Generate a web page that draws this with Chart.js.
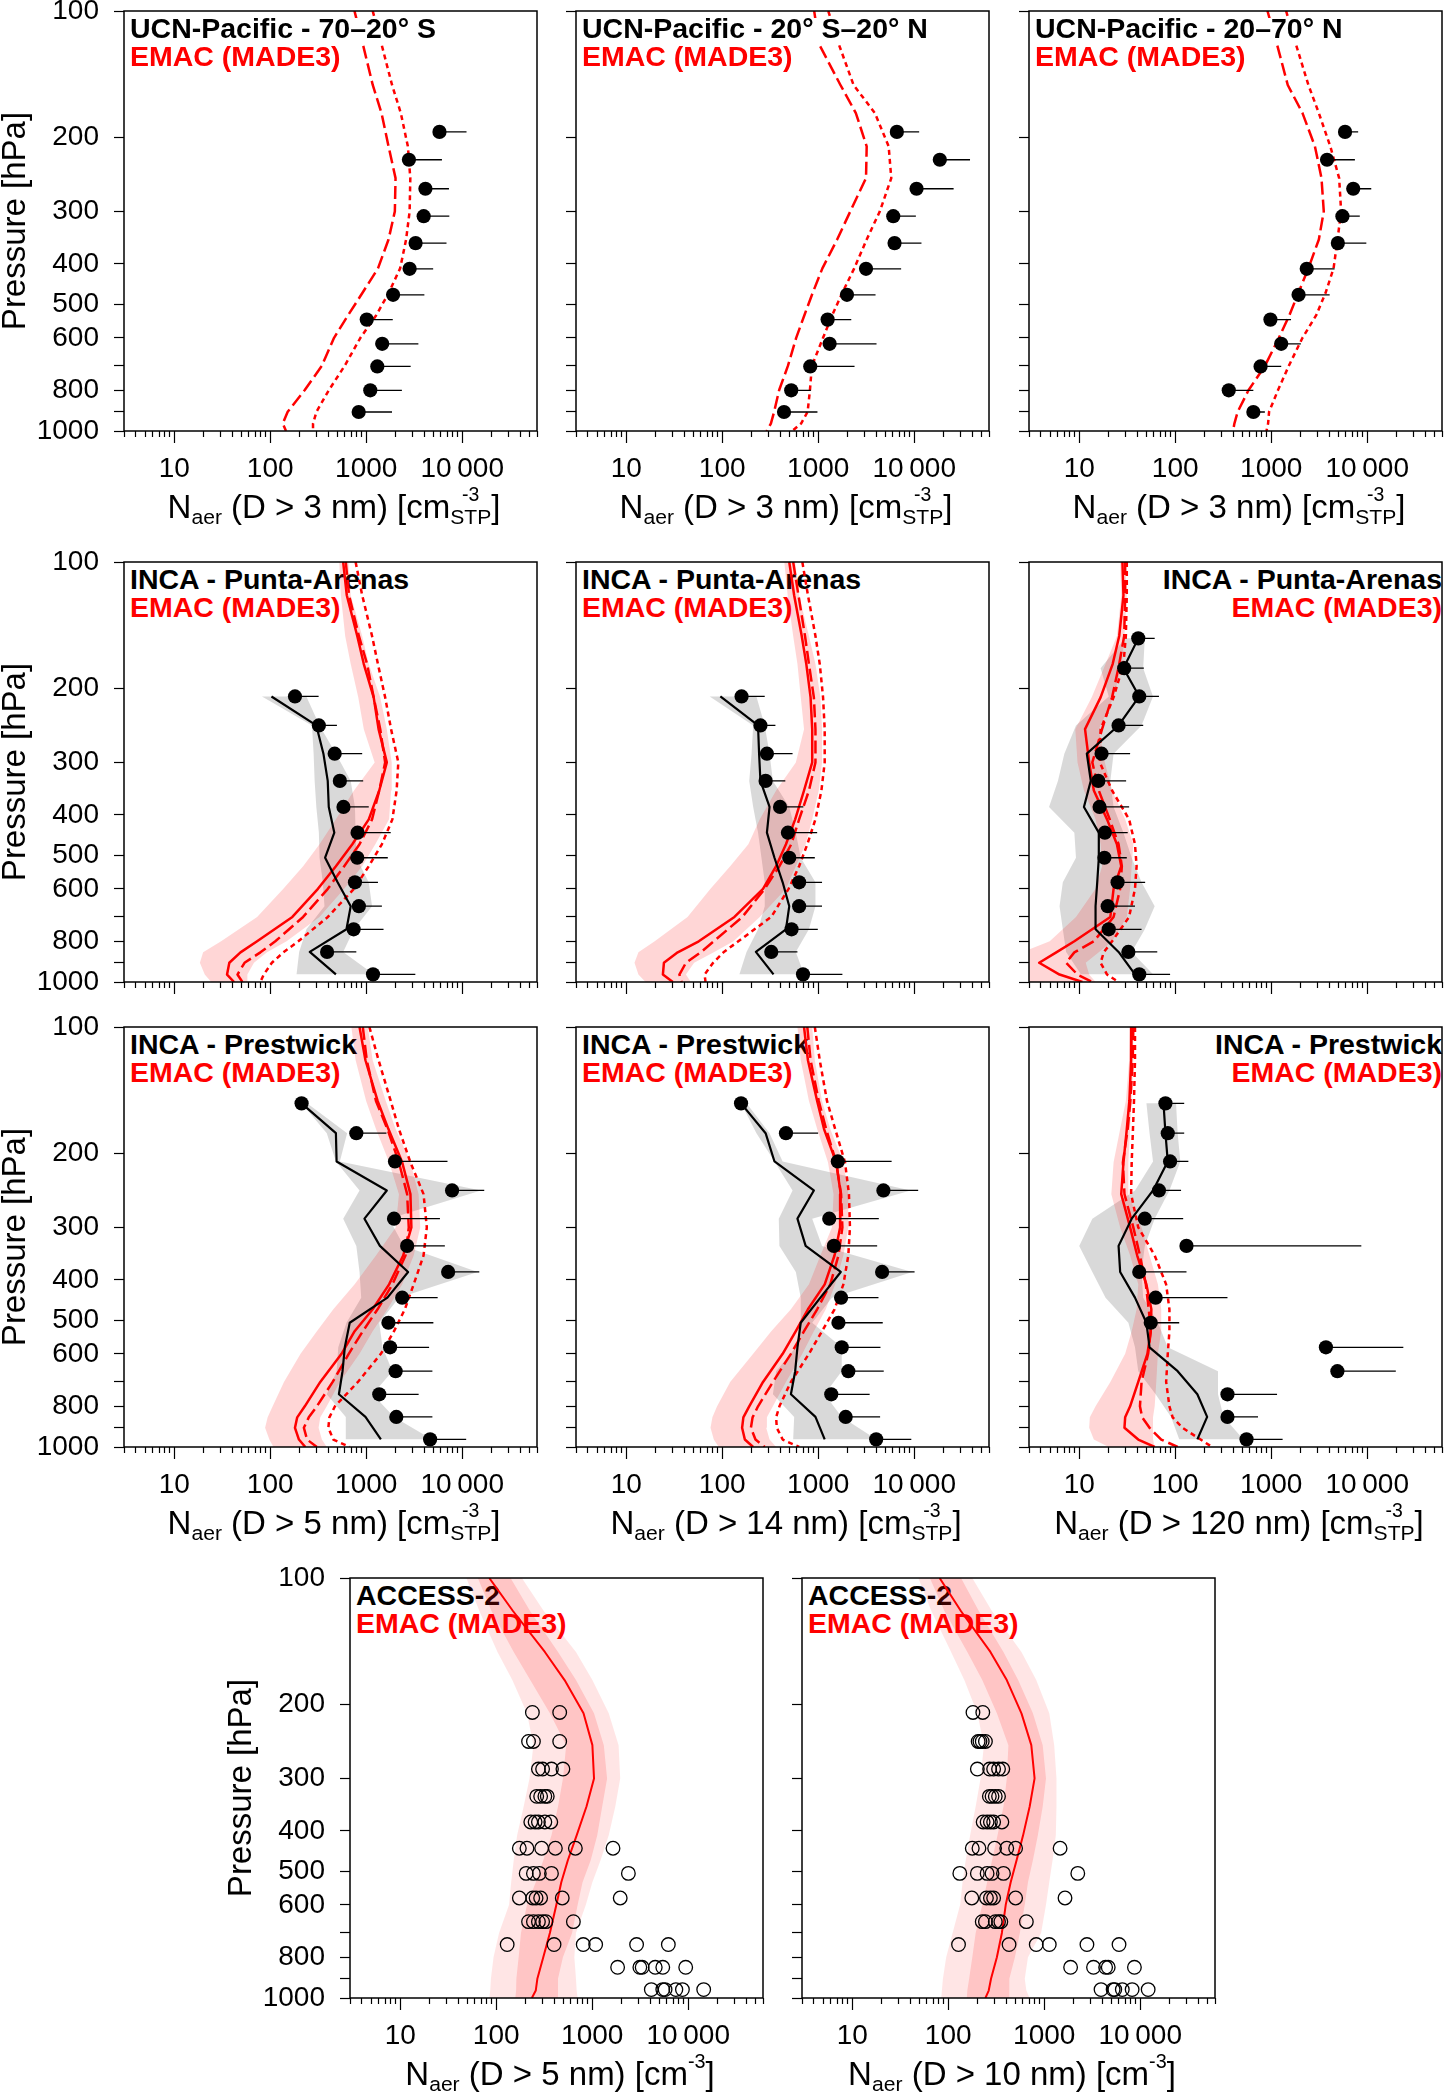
<!DOCTYPE html>
<html><head><meta charset="utf-8">
<script src="https://cdn.jsdelivr.net/npm/chart.js@4.4.1/dist/chart.umd.min.js"></script>
<style>
html,body{margin:0;padding:0;background:#fff;overflow:hidden;width:1450px;height:2093px;}
#root{position:relative;width:1450px;height:2093px;overflow:hidden;}
canvas{position:absolute;z-index:2;}
.ttl{position:absolute;font-family:'Liberation Sans',Arial,Helvetica,sans-serif;font-weight:bold;font-size:28.5px;line-height:28.5px;white-space:nowrap;z-index:1;}
.ttl.front{z-index:3;}
.ttl.front span{background:linear-gradient(to bottom, rgba(255,255,255,0) 0px, rgba(255,255,255,0) 6px, #fff 6px, #fff 100%);}
.ttl .b{color:#000;} .ttl .r{color:#f00;}
.xt{position:absolute;width:640px;text-align:center;font-family:'Liberation Sans',Arial,Helvetica,sans-serif;font-size:33px;line-height:33px;white-space:nowrap;z-index:3;color:#000;}
.sb{font-size:0.64em;position:relative;top:0.3em;}
.sp{font-size:0.6em;position:relative;top:-0.85em;}
.st{position:relative;display:inline-block;font-size:0.64em;}
.st .dn{position:relative;top:0.3em;}
.st .up{position:absolute;left:0;right:0;text-align:center;top:-9px;font-size:0.92em;line-height:1;}
</style></head>
<body><div id="root"></div>
<script>
// ---------------- axes ----------------
const X_TICKS = [3,4,5,6,7,8,9,10,20,30,40,50,60,70,80,90,100,200,300,400,500,600,700,800,900,
  1000,2000,3000,4000,5000,6000,7000,8000,9000,10000,20000,30000,40000,50000,60000];
const X_LABELS = {10:'10',100:'100',1000:'1000',10000:'10\u2009000'};
const Y_TICKS = [100,200,300,400,500,600,700,800,900,1000];
const Y_LABELS = {100:'100',200:'200',300:'300',400:'400',500:'500',600:'600',800:'800',1000:'1000'};

// ---------------- pressure levels [hPa] ----------------
const P_MOD_A = [100,120,150,175,210,250,300,350,410,470,530,600,700,800,900,960,1000];
const P_MOD_B = [100,120,150,175,210,250,300,350,410,470,530,600,700,800,850,900,960,1000];
const P_UCN  = [194,226,265,308,357,411,474,543,620,702,800,901];
const P_INCA = [152,179,209,245,286,332,383,441,506,579,660,749,848,959];
const P_ACC  = [209,245,285,331,381,440,505,578,658,746,845,955];

// ---------------- UCN-Pacific 70-20 S ----------------
const ucnS_obs   = [5788,2782,4131,3963,3265,2829,1903,1012,1466,1303,1101,834];
const ucnS_obsHi = [11070,6140,7265,7330,6850,4975,4030,1888,3490,2900,2350,1856];
const ucnS_dash  = [754,922,1168,1442,1706,2018,1985,1706,1325,907,647,462,344,228,152,135,146];
const ucnS_dot   = [1168,1442,1856,2291,2711,2876,2829,2600,2253,1706,1270,869,595,407,303,279,279];
// ---------------- UCN-Pacific 20 S - 20 N ----------------
const ucnEq_obs   = [6585,18450,10560,6040,6232,3144,1991,1252,1313,825,523,440];
const ucnEq_obsHi = [11240,38060,25680,10390,11880,7295,3950,2207,4044,2387,838,981];
const ucnEq_dash  = [907,1021,1702,2463,3194,3144,2156,1573,1104,872,717,589,483,391,347,321,290];
const ucnEq_dot   = [1272,1637,2331,3888,5410,5760,4375,3194,2368,1771,1398,1122,858,819,775,662,535];
// ---------------- UCN-Pacific 20-70 N ----------------
const ucnN_obs   = [5868,3811,7140,5510,4937,2342,1925,980,1270,774,361,651];
const ucnN_obsHi = [8035,7430,11000,8356,9775,4565,4058,1607,2033,1270,651,858];
const ucnN_dash  = [913,1147,1485,2115,2850,3335,3523,3131,2435,1910,1545,1202,858,579,447,413,400];
const ucnN_dot   = [1428,1807,2435,3131,4121,5094,5340,4898,4457,3664,2941,2115,1521,1174,949,927,892];

// ---------------- INCA Punta-Arenas D>5 nm ----------------
const pa5_obs   = [null,null,181,321,469,531,579,812,806,763,838,739,391,1176];
const pa5_obsHi = [null,null,319,495,907,929,1062,1798,1676,1324,1455,1513,788,3244];
const pa5_med   = [null,null,103,302,358,397,407,465,373,503,689,622,258,483];
const pa5_lo    = [null,null,82,272,283,290,302,321,326,353,367,238,200,188];
const pa5_up    = [null,null,238,326,483,689,763,775,788,1062,1149,745,575,1195];
const pa5_mod   = [575,627,806,943,1195,1344,1637,1366,1062,716,483,314,170,73,49,37.5,35.5,42];
const pa5_modLo = [523,544,603,689,825,943,1223,745,483,326,220,137,73,30.8,20,18.5,20.8,24.3];
const pa5_modHi = [652,689,907,1062,1398,1637,1841,1813,1729,1243,907,589,326,148,92.6,67.7,57.8,57.8];
const pa5_dash  = [612,662,838,1021,1195,1398,1573,1366,1149,851,589,398,220,113,79,54,45.6,51.3];
const pa5_dot   = [775,907,1149,1323,1573,1813,2156,2072,1871,1454,1062,745,398,196,137,104,85.6,79];
// ---------------- INCA Punta-Arenas D>14 nm ----------------
const pa14_obs   = [null,null,159,250,292,283,400,483,499,632,632,527,324,694];
const pa14_obsHi = [null,null,277,358,540,454,700,974,921,1095,1095,989,607,1784];
const pa14_med   = [null,null,95.6,236,242,250,311,292,350,426,499,461,224,342];
const pa14_lo    = [null,null,74,210,202,191,210,236,256,277,277,236,179,151];
const pa14_up    = [null,null,227,277,311,337,499,584,657,935,935,800,584,711];
const pa14_mod   = [499,561,673,751,832,865,865,711,575,461,364,266,134,57,34.4,24.7,24.1,30.6];
const pa14_modLo = [443,480,548,607,657,711,584,364,246,187,121,75.5,43.5,19.8,13.4,12.2,13.4,15.9];
const pa14_modHi = [575,632,800,935,1053,1095,1095,1013,865,739,584,461,246,131,81.7,51,41.9,47.1];
const pa14_dash  = [548,622,728,800,900,935,935,800,632,523,394,277,162,81.7,59.6,41.9,35.8,37.8];
const pa14_dot   = [683,781,935,1037,1122,1167,1167,1079,935,769,632,491,324,147,103,80.4,65.5,67];
// ---------------- INCA Punta-Arenas D>120 nm ----------------
const pa120_obs   = [41.2,29.4,42.2,25.7,17.1,15.8,16.3,18.5,18.3,25.1,19.8,20.3,32.5,42.2];
const pa120_obsHi = [61.1,47.1,67.7,46.4,33.9,30.8,33.1,32,31.3,48.6,38.1,44.6,65,88.4];
const pa120_med   = [41.2,28.9,42.2,25.7,12,13.2,11.2,16,16,15.4,14.8,14.8,25.7,38.1];
const pa120_lo    = [30.1,16.7,20.3,9.25,7.0,6.0,4.85,8.9,9.25,6.75,6.24,6.75,7.3,10.4];
const pa120_up    = [48.2,46.4,58.7,44.6,22.8,21.1,22.8,28.9,35.2,44.6,61.1,48.2,35.2,58.7];
const pa120_mod   = [28.2,28.9,26.1,22.3,16.7,11.5,12.7,14.2,19.5,24.7,27.4,22.8,21.1,8.9,5.77,3.83,6.24,10.8];
const pa120_modLo = [26.7,27.4,24.7,18.8,13.5,9.1,9.6,11.2,14.8,16.7,17.3,14.8,9.25,4.93,2.5,2.5,2.5,2.5];
const pa120_modHi = [30.1,31.3,29.6,27.8,22.8,16,18.5,22,30.1,36.6,35.2,33.9,31.3,22,16,11.7,12.7,14.8];
const pa120_dash  = [30.1,30.1,29.4,26.1,22,17.3,13.7,16,20.8,25.7,27.8,26.7,22.8,14.2,8.9,7.3,9.6,13.7];
const pa120_dot   = [31.3,31.3,30.6,28.9,22.8,16.7,16.4,22,33.1,38.1,39.6,38.1,33.1,22,18,16.7,19.5,25.7];

// ---------------- INCA Prestwick D>5 nm ----------------
const pw5_obs   = [212,788,1992,7830,1946,2666,7124,2368,1702,1771,2023,1366,2056,4624];
const pw5_obsHi = [212,1623,7015,16930,5852,6585,15040,5541,5000,4513,4884,3511,4884,10980];
const pw5_med   = [212,483,491,1637,958,1387,2729,1662,673,598,566,519,981,1420];
const pw5_lo    = [212,388,483,851,575,788,851,886,622,511,491,388,612,612];
const pw5_up    = [242,632,531,15650,1729,2463,14460,2189,1366,1477,1871,1167,1946,4808];
const pw5_mod   = [851,981,1313,1702,2368,2884,2951,2424,1729,1167,757,553,332,229,191,181,199,232];
const pw5_modLo = [700,775,997,1262,1729,2189,2023,1262,757,454,306,207,139,106,94,88.4,97.9,108];
const pw5_modHi = [1037,1167,1598,2023,2884,3511,3651,3119,2368,1662,1167,851,531,388,332,319,345,388];
const pw5_dash  = [921,1013,1262,1662,2189,2666,2772,2562,1871,1313,921,657,447,306,252,224,242,306];
const pw5_dot   = [1078,1344,1798,2189,2884,3950,4272,3950,3119,2523,1946,1420,819,472,413,403,454,673];
// ---------------- INCA Prestwick D>14 nm ----------------
const pw14_obs   = [157,461,1598,4770,1302,1454,4624,1729,1623,1756,2056,1366,1930,4012];
const pw14_obsHi = [157,997,5807,10980,4272,4107,10070,4238,4694,4445,4808,3428,4407,9311];
const pw14_med   = [157,283,350,900,607,739,1716,1053,657,607,575,519,935,1167];
const pw14_lo    = [157,227,350,540,388,394,584,657,657,584,364,337,561,548];
const pw14_up    = [179,311,426,9163,865,1095,9530,1387,865,1756,1756,1167,1756,4012];
const pw14_mod   = [711,781,974,1149,1537,1716,1689,1477,1167,781,584,426,266,191,166,161,172,210];
const pw14_modLo = [607,657,800,974,1262,1443,1387,1053,800,519,324,210,121,88.4,79,75.5,81.7,91.9];
const pw14_modHi = [865,921,1095,1334,1827,2056,2056,1827,1501,1198,900,683,461,337,292,287,311,364];
const pw14_dash  = [769,832,1013,1208,1537,1729,1784,1623,1334,974,711,519,337,236,207,199,222,277];
const pw14_dot   = [921,1037,1233,1501,1900,2088,2138,2056,1827,1477,1095,800,519,394,364,370,426,632];
// ---------------- INCA Prestwick D>120 nm ----------------
const pw120_obs   = [79.1,83.6,88.4,67.7,48.2,131,42.2,62.5,55.6,3709,4884,350,350,553];
const pw120_obsHi = [124,124,137,115,121,8670,131,350,110,23740,19820,1149,728,1313];
const pw120_med   = [75.5,79.1,83.6,58.7,35.2,25.7,26.7,38.1,50.1,54,106,170,215,170];
const pw120_lo    = [50.1,54,58.7,38.1,13.7,10,13.7,18.8,32.5,38.1,41.2,62.5,90.5,110];
const pw120_up    = [102,106,113,87,61.1,48.2,44.6,46.4,66,83.6,279,279,319,511];
const pw120_mod   = [35.2,34.7,33.3,31.3,28.9,27.4,33.9,40.2,50.1,56.4,55.6,51.3,41.2,33.9,30.1,29.6,41.2,61.1];
const pw120_modLo = [33.9,33.1,30.6,26.7,22.8,21.6,26.7,33.9,41.2,39.6,35.2,30.1,21.1,14.8,12.9,12.7,14.2,20.3];
const pw120_modHi = [36.6,36.6,35.2,33.9,32.5,32.5,44.6,54,66,71.5,71.5,66,63.5,61.1,58.7,58.7,58.7,61.1];
const pw120_dash  = [36.6,36.1,34.1,32,28.5,29.6,36.6,42.9,49.4,53,55.6,52.2,44.6,42.9,45.3,54,71.5,106];
const pw120_dot   = [38.1,38.1,37.2,36.3,35.2,34.7,41.2,61.1,80.4,87,87,83.6,80.4,87,94,119,184,242];

// ---------------- ACCESS-2 D>5 nm ----------------
const acc5_obs = [
  [238,458],[217,244,458],[275,304,376,495],[264,290,321,340],[229,254,275,321,370],
  [174,209,297,413,667,1645],[205,244,281,376,2378],[174,240,260,290,487,1955],
  [217,244,275,304,329,636],[130,400,805,1085,2895,6199],[1837,3131,3308,4529,5425,9400],
  [4121,5425,5733,7427,8690,14470]];
const acc5_mod   = [84.6,150,321,515,811,1003,1043,871,688,557,476,423,362,309,268,258,235];
const acc5_outLo = [48.8,66.9,103,147,209,244,222,193,165,152,143,136,107,93.7,88,86.6,84.6];
const acc5_inLo  = [64.3,89.4,152,226,362,535,495,440,376,309,258,209,181,171,162,161,158];
const acc5_inHi  = [141,226,440,677,1043,1320,1428,1270,1128,964,793,705,617,495,440,440,440];
const acc5_outHi = [185,314,677,1003,1485,1881,1955,1738,1485,1221,1003,858,677,651,677,688,705];
// ---------------- ACCESS-2 D>10 nm ----------------
const acc10_obs = [
  [181,229],[205,214,226,244],[201,270,297,334,370],[268,286,309,334],[231,254,275,297,362],
  [178,209,304,407,503,1462],[132,201,254,286,376,2234],[176,250,275,297,503,1645],
  [226,244,309,334,353,651],[128,430,825,1128,2783,6007],[1881,3257,4355,4637,8690],
  [3902,5215,5425,6497,8226,12080]];
const acc10_mod   = [81.3,136,275,407,579,733,793,705,602,515,447,397,362,321,279,264,244];
const acc10_outLo = [48.8,66.9,107,147,201,235,217,193,169,152,141,133,111,95.2,88,85.9,84.6];
const acc10_inLo  = [64.3,91.5,158,226,321,423,407,376,326,286,254,226,193,178,165,158,156];
const acc10_inHi  = [136,209,376,535,762,964,1043,964,858,762,677,627,557,495,433,433,433];
const acc10_outHi = [178,286,579,825,1128,1270,1341,1341,1320,1221,1128,1043,927,677,627,651,705];

// ---------------- helpers ----------------
const FONT = "'Liberation Sans', Arial, Helvetica, sans-serif";
const AXW = 124, PW = 420, PH = 420, PAD_T = 34, XAH = 62, PAD_R = 2;
const root = document.getElementById('root');

function profile(xs, ps){ const o=[]; xs.forEach((v,i)=>{ if(v!=null) o.push({x:v,y:ps[i]}); }); return o; }
function band(lo, hi, ps){
  const o=[];
  for(let i=0;i<ps.length;i++) if(lo[i]!=null) o.push({x:lo[i],y:ps[i]});
  for(let i=ps.length-1;i>=0;i--) if(hi[i]!=null) o.push({x:hi[i],y:ps[i]});
  return o;
}
function bars(xs, his, ps){
  const o=[];
  xs.forEach((v,i)=>{ if(v!=null){ o.push({x:v,y:ps[i]},{x:his[i],y:ps[i]},{x:null,y:null}); } });
  return o;
}
function rows(list, ps){ const o=[]; list.forEach((r,i)=>r.forEach(v=>o.push({x:v,y:ps[i]}))); return o; }

const lineDS = (data, color, width, dash, order) => ({type:'line', data, borderColor:color, borderWidth:width,
  borderDash:dash||[], borderCapStyle:'butt', borderJoinStyle:'round', pointRadius:0, fill:false, tension:0, order, spanGaps:false});
const bandDS = (data, color, order) => ({type:'line', data, borderColor:'rgba(0,0,0,0)', borderWidth:0,
  backgroundColor:color, pointRadius:0, fill:'shape', tension:0, order});
const dotsDS = (data, order) => ({type:'line', data, showLine:false, pointRadius:7.1, pointBackgroundColor:'#000',
  pointBorderColor:'#000', pointBorderWidth:0, order});
const ringDS = (data, order) => ({type:'line', data, showLine:false, pointRadius:6.8, pointBackgroundColor:'rgba(0,0,0,0)',
  pointBorderColor:'#000', pointBorderWidth:1.3, order});

const RED='#ff0000', PINK='rgba(255,0,0,0.16)', GREY='rgba(0,0,0,0.15)';
const DASH=[13,5], DOT=[5,4];

const framePlugin = {id:'frame', afterDraw(chart){
  const {ctx, chartArea:a} = chart; ctx.save(); ctx.strokeStyle='#000'; ctx.lineWidth=1.5;
  ctx.strokeRect(a.left, a.top, a.right-a.left, a.bottom-a.top); ctx.restore(); }};

const isMajor = v => [10,100,1000,10000].includes(v);

function panel(spec){
  const c = document.createElement('canvas');
  const W = AXW+PW+PAD_R, H = PAD_T+PH+XAH;
  c.width=W; c.height=H;
  c.style.width=W+'px'; c.style.height=H+'px';
  c.style.left=(spec.left-AXW)+'px'; c.style.top=(spec.top-PAD_T)+'px';
  root.appendChild(c);
  new Chart(c.getContext('2d'), {
    type:'line',
    data:{datasets:spec.datasets},
    options:{
      responsive:false, animation:false, devicePixelRatio:1, events:[],
      layout:{padding:{top:PAD_T, right:PAD_R, left:0, bottom:0}},
      plugins:{legend:{display:false}, tooltip:{enabled:false}},
      scales:{
        x:{type:'logarithmic', position:'bottom', min:3, max:60000, bounds:'data',
          afterFit:s=>{s.height=XAH;},
          afterBuildTicks:s=>{s.ticks=X_TICKS.map(v=>({value:v}));},
          ticks:{autoSkip:false, maxRotation:0, minRotation:0, padding:9, color:'#000',
            font:{family:FONT, size:28},
            callback:(v)=> spec.xLabels ? (X_LABELS[v]||'') : ''},
          grid:{drawOnChartArea:false, drawTicks:true, tickLength:12, tickColor:'#000', tickWidth:1.2,
            tickBorderDash:(ctx)=> (ctx.tick && isMajor(ctx.tick.value)) ? [] : [6,100]},
          border:{display:false}},
        y:{type:'logarithmic', position:'left', min:100, max:1000, reverse:true, bounds:'data',
          afterFit:s=>{s.width=AXW;},
          afterBuildTicks:s=>{s.ticks=Y_TICKS.map(v=>({value:v}));},
          ticks:{autoSkip:false, padding:15, color:'#000', font:{family:FONT, size:28},
            callback:(v)=> spec.yLabels ? (Y_LABELS[v]||'') : ''},
          grid:{drawOnChartArea:false, drawTicks:true, tickLength:10, tickColor:'#000', tickWidth:1.2},
          border:{display:false},
          title:{display:!!spec.yLabels, text:'Pressure [hPa]', color:'#000',
            font:{family:FONT, size:33, lineHeight:1}, padding:{top:-1, bottom:0}}}
      }
    },
    plugins:[framePlugin]
  });
}

function title(left, top, t1, right, front){
  const d=document.createElement('div');
  d.className='ttl'+(front?' front':'');
  d.innerHTML='<span class="b">'+t1+'</span><br><span class="r">EMAC (MADE3)</span>';
  d.style.top=(top+2.5)+'px';
  if(right){ d.style.textAlign='right'; d.style.left=(left+PW-7-500)+'px'; d.style.width='500px'; }
  else d.style.left=(left+6)+'px';
  root.appendChild(d);
}
function xtitle(left, top, html){
  const d=document.createElement('div');
  d.className='xt'; d.innerHTML=html;
  d.style.left=(left+PW/2-320)+'px'; d.style.top=(top+PH+59)+'px';
  root.appendChild(d);
}
const XT_STP = d => 'N<span class="sb">aer</span> (D &gt; '+d+' nm) [cm<span class="st"><span class="up">-3</span><span class="dn">STP</span></span>]';
const XT_PLAIN = d => 'N<span class="sb">aer</span> (D &gt; '+d+' nm) [cm<span class="sp">-3</span>]';

// ---------------- layout ----------------
const COLS=[124,576,1029], ROWS=[11,562,1027], R4_TOP=1578, R4_COLS=[350,802];

// Row 1 : UCN-Pacific
function ucnSets(obs, hi, dash, dot){
  return [
    dotsDS(profile(obs,P_UCN),0),
    lineDS(bars(obs,hi,P_UCN),'#000',1.3,[],1),
    lineDS(profile(dash,P_MOD_A),RED,2.5,DASH,3),
    lineDS(profile(dot,P_MOD_A),RED,2.5,DOT,3)
  ];
}
panel({left:COLS[0], top:ROWS[0], yLabels:true, xLabels:true, datasets:ucnSets(ucnS_obs,ucnS_obsHi,ucnS_dash,ucnS_dot)});
panel({left:COLS[1], top:ROWS[0], xLabels:true, datasets:ucnSets(ucnEq_obs,ucnEq_obsHi,ucnEq_dash,ucnEq_dot)});
panel({left:COLS[2], top:ROWS[0], xLabels:true, datasets:ucnSets(ucnN_obs,ucnN_obsHi,ucnN_dash,ucnN_dot)});
title(COLS[0],ROWS[0],'UCN-Pacific - 70–20° S',false,true);
title(COLS[1],ROWS[0],'UCN-Pacific - 20° S–20° N',false,true);
title(COLS[2],ROWS[0],'UCN-Pacific - 20–70° N',false,true);
for(let i=0;i<3;i++) xtitle(COLS[i],ROWS[0],XT_STP(3));

// Rows 2-3 : INCA
function incaSets(o){
  return [
    dotsDS(profile(o.obs,P_INCA),0),
    lineDS(bars(o.obs,o.hi,P_INCA),'#000',1.3,[],1),
    lineDS(profile(o.med,P_INCA),'#000',2.2,[],2),
    lineDS(profile(o.mod,P_MOD_B),RED,2.5,[],3),
    lineDS(profile(o.dash,P_MOD_B),RED,2.5,DASH,3),
    lineDS(profile(o.dot,P_MOD_B),RED,2.5,DOT,3),
    bandDS(band(o.modLo,o.modHi,P_MOD_B),PINK,4),
    bandDS(band(o.lo,o.up,P_INCA),GREY,5)
  ];
}
const incaPanels = [
  {o:{obs:pa5_obs,hi:pa5_obsHi,med:pa5_med,lo:pa5_lo,up:pa5_up,mod:pa5_mod,modLo:pa5_modLo,modHi:pa5_modHi,dash:pa5_dash,dot:pa5_dot}, c:0, r:1, t:'INCA - Punta-Arenas'},
  {o:{obs:pa14_obs,hi:pa14_obsHi,med:pa14_med,lo:pa14_lo,up:pa14_up,mod:pa14_mod,modLo:pa14_modLo,modHi:pa14_modHi,dash:pa14_dash,dot:pa14_dot}, c:1, r:1, t:'INCA - Punta-Arenas'},
  {o:{obs:pa120_obs,hi:pa120_obsHi,med:pa120_med,lo:pa120_lo,up:pa120_up,mod:pa120_mod,modLo:pa120_modLo,modHi:pa120_modHi,dash:pa120_dash,dot:pa120_dot}, c:2, r:1, t:'INCA - Punta-Arenas'},
  {o:{obs:pw5_obs,hi:pw5_obsHi,med:pw5_med,lo:pw5_lo,up:pw5_up,mod:pw5_mod,modLo:pw5_modLo,modHi:pw5_modHi,dash:pw5_dash,dot:pw5_dot}, c:0, r:2, t:'INCA - Prestwick', d:'5'},
  {o:{obs:pw14_obs,hi:pw14_obsHi,med:pw14_med,lo:pw14_lo,up:pw14_up,mod:pw14_mod,modLo:pw14_modLo,modHi:pw14_modHi,dash:pw14_dash,dot:pw14_dot}, c:1, r:2, t:'INCA - Prestwick', d:'14'},
  {o:{obs:pw120_obs,hi:pw120_obsHi,med:pw120_med,lo:pw120_lo,up:pw120_up,mod:pw120_mod,modLo:pw120_modLo,modHi:pw120_modHi,dash:pw120_dash,dot:pw120_dot}, c:2, r:2, t:'INCA - Prestwick', d:'120'}
];
incaPanels.forEach(p=>{
  panel({left:COLS[p.c], top:ROWS[p.r], yLabels:p.c===0, xLabels:p.r===2, datasets:incaSets(p.o)});
  title(COLS[p.c], ROWS[p.r], p.t, p.c===2, false);
  if(p.r===2) xtitle(COLS[p.c], ROWS[p.r], XT_STP(p.d));
});

// Row 4 : ACCESS-2
function accSets(obs, mod, outLo, inLo, inHi, outHi){
  return [
    ringDS(rows(obs,P_ACC),0),
    lineDS(profile(mod,P_MOD_A),RED,2,[],3),
    bandDS(band(inLo,inHi,P_MOD_A),'rgba(255,0,0,0.14)',4),
    bandDS(band(outLo,outHi,P_MOD_A),'rgba(255,0,0,0.10)',5)
  ];
}
panel({left:R4_COLS[0], top:R4_TOP, yLabels:true, xLabels:true, datasets:accSets(acc5_obs,acc5_mod,acc5_outLo,acc5_inLo,acc5_inHi,acc5_outHi)});
panel({left:R4_COLS[1], top:R4_TOP, xLabels:true, datasets:accSets(acc10_obs,acc10_mod,acc10_outLo,acc10_inLo,acc10_inHi,acc10_outHi)});
title(R4_COLS[0],R4_TOP,'ACCESS-2',false,false);
title(R4_COLS[1],R4_TOP,'ACCESS-2',false,false);
xtitle(R4_COLS[0],R4_TOP,XT_PLAIN('5'));
xtitle(R4_COLS[1],R4_TOP,XT_PLAIN('10'));
</script>
</body></html>
